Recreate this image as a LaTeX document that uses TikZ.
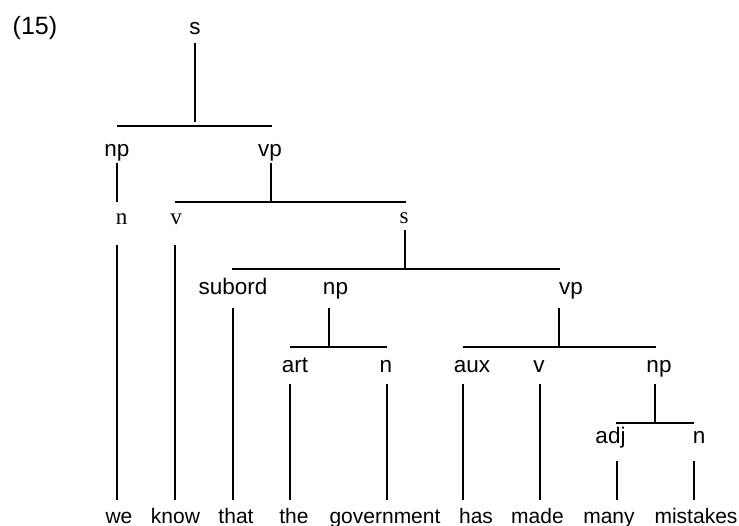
\documentclass[tikz,border=0pt]{standalone}
\usepackage{fontspec}
\setmainfont{Liberation Sans}
\newfontfamily\treeserif{Liberation Serif}
\begin{document}
\begin{tikzpicture}[x=1pt,y=-1pt,
  lab/.style={anchor=base,inner sep=0pt,font=\fontsize{22.5}{26}\selectfont},
  word/.style={anchor=base,inner sep=0pt,font=\fontsize{21}{25}\selectfont},
  slab/.style={anchor=base,inner sep=0pt,font=\treeserif\fontsize{23}{27}\selectfont},
  stem/.style={line width=1.6pt},
  bar/.style={line width=2.2pt}]
\useasboundingbox (0,0) rectangle (739,526);

% example number
\node[anchor=base west,inner sep=0pt,font=\fontsize{25}{29}\selectfont] (exnum) at (12.5,35) {(15)};

% category labels
\node[lab]  (s0)   at (195,35)  {s};
\node[lab]  (np1)  at (117,157) {np};
\node[lab]  (vp1)  at (270,157) {vp};
\node[slab] (n1)   at (121.5,225) {n};
\node[slab] (v1)   at (176,225) {v};
\node[slab] (s1)   at (404,224) {s};
\node[lab]  (sub)  at (233,295) {subord};
\node[lab]  (np2)  at (335.5,295) {np};
\node[lab]  (vp2)  at (571,295) {vp};
\node[lab]  (art)  at (295,373) {art};
\node[lab]  (n2)   at (386,373) {n};
\node[lab]  (aux)  at (472,373) {aux};
\node[lab]  (v2)   at (539,373) {v};
\node[lab]  (np3)  at (659,373) {np};
\node[lab]  (adj)  at (610.5,443) {adj};
\node[lab]  (n3)   at (699,443) {n};

% words
\node[word] (w1) at (119,523) {we};
\node[word] (w2) at (175.5,523) {know};
\node[word] (w3) at (236,523) {that};
\node[word] (w4) at (294,523) {the};
\node[word] (w5) at (385,523) {government};
\node[word] (w6) at (476,523) {has};
\node[word] (w7) at (537.5,523) {made};
\node[word] (w8) at (609,523) {many};
\node[word] (w9) at (696,523) {mistakes};

% bar ends
\coordinate (b0l) at (117,126); \coordinate (b0r) at (272,126);
\coordinate (b1l) at (175,202); \coordinate (b1r) at (406,202);
\coordinate (b2l) at (232,269); \coordinate (b2r) at (560,269);
\coordinate (b3l) at (290,347); \coordinate (b3r) at (387,347);
\coordinate (b4l) at (463,347); \coordinate (b4r) at (656,347);
\coordinate (b5l) at (616,423); \coordinate (b5r) at (694,423);
\coordinate (wordline) at (0,500);

% stem tops, just below each label
\coordinate (t-s0)  at (195,43);
\coordinate (t-np1) at (117,163);
\coordinate (t-vp1) at (271,163);
\coordinate (t-n1)  at (117,245);
\coordinate (t-v1)  at (175,245);
\coordinate (t-s1)  at (405,230);
\coordinate (t-sub) at (233,308);
\coordinate (t-np2) at (329,308);
\coordinate (t-vp2) at (559,308);
\coordinate (t-art) at (290,384);
\coordinate (t-n2)  at (387,384);
\coordinate (t-aux) at (463,384);
\coordinate (t-v2)  at (540,384);
\coordinate (t-np3) at (655,384);
\coordinate (t-adj) at (617,461);
\coordinate (t-n3)  at (694,461);

% horizontal bars
\foreach \b in {b0,b1,b2,b3,b4,b5} \draw[bar] (\b l) -- (\b r);

% stems from a parent down to its bar
\draw[stem,shorten >=4pt] (t-s0) -- (t-s0 |- b0l);
\foreach \t/\b in {np1/b1l,vp1/b1l,s1/b2l,np2/b3l,vp2/b4l,np3/b5l}
  \draw[stem] (t-\t) -- (t-\t |- \b);

% stems from a part of speech down to its word
\foreach \t in {n1,v1,sub,art,n2,aux,v2,adj,n3}
  \draw[stem] (t-\t) -- (t-\t |- wordline);
\end{tikzpicture}
\end{document}
